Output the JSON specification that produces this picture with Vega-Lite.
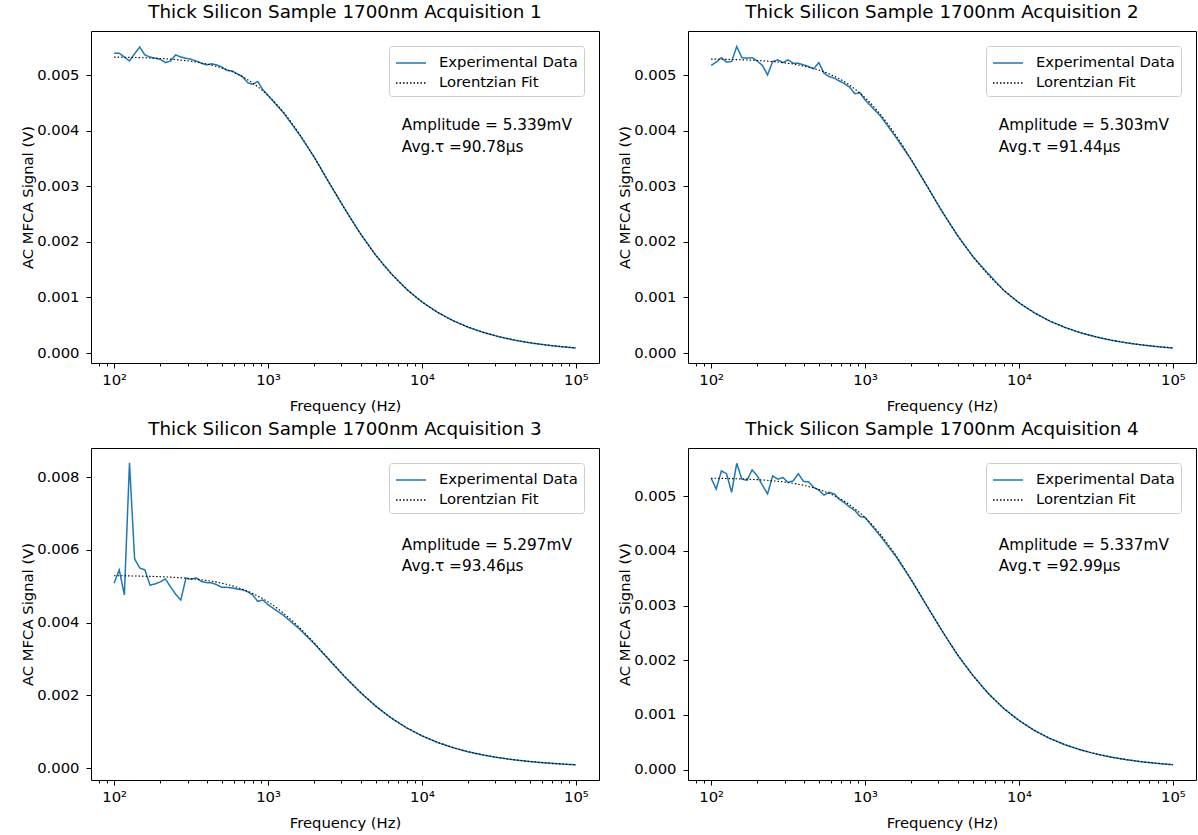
{
"$schema": "https://vega.github.io/schema/vega-lite/v6.json",
"background": "white",
"padding": {"left": 20, "top": 2, "right": 2, "bottom": 2},
"bounds": "flush",
"columns": 2,
"spacing": {"row": 85, "column": 89},
"config": {
  "font": "DejaVu Sans",
  "view": {"stroke": "#000000", "strokeWidth": 1},
  "axis": {"grid": false, "domain": false, "tickColor": "#000000", "tickSize": 5, "tickWidth": 1, "labelColor": "#000000", "labelFontSize": 14.8, "labelFont": "DejaVu Sans", "labelPadding": 4, "titleColor": "#000000", "titleFontSize": 14.8, "titleFontWeight": "normal", "titleFont": "DejaVu Sans", "titlePadding": 5, "labelFlush": false, "labelOverlap": false},
  "axisX": {"titlePadding": 12},
  "axisY": {"titlePadding": 1, "labelPadding": 7},
  "title": {"fontSize": 18.3, "fontWeight": "normal", "font": "DejaVu Sans", "color": "#000000", "offset": 9, "baseline": "alphabetic", "anchor": "middle"},
  "legend": {"orient": "top-right", "offset": 15, "padding": 6, "strokeColor": "#cccccc", "fillColor": "#ffffff", "cornerRadius": 3, "labelFontSize": 14.8, "labelFont": "DejaVu Sans", "labelColor": "#000000", "symbolType": "M-1.5,0H1.5", "symbolSize": 400, "symbolOffset": 5, "symbolStrokeWidth": 1.5, "labelOffset": 17, "rowPadding": 2, "labelLimit": 300}
},
"resolve": {"scale": {"x": "independent", "y": "independent", "color": "independent", "strokeDash": "independent"}},
"datasets": {
"notes": [
{"p":1,"t":"Amplitude = 5.339mV","f":7400,"v":0.00410},{"p":1,"t":"Avg.τ =90.78µs","f":7400,"v":0.00371},
{"p":2,"t":"Amplitude = 5.303mV","f":7400,"v":0.00410},{"p":2,"t":"Avg.τ =91.44µs","f":7400,"v":0.00371},
{"p":3,"t":"Amplitude = 5.297mV","f":7400,"v":0.00614},{"p":3,"t":"Avg.τ =93.46µs","f":7400,"v":0.00556},
{"p":4,"t":"Amplitude = 5.337mV","f":7400,"v":0.00411},{"p":4,"t":"Avg.τ =92.99µs","f":7400,"v":0.00373}
],
"curves": [
{"p":1,"s":"Experimental Data","f":100,"v":0.00540},{"p":1,"s":"Experimental Data","f":107.98,"v":0.00540},{"p":1,"s":"Experimental Data","f":116.59,"v":0.00533},{"p":1,"s":"Experimental Data","f":125.89,"v":0.00526},{"p":1,"s":"Experimental Data","f":135.94,"v":0.00539},{"p":1,"s":"Experimental Data","f":146.78,"v":0.00551},{"p":1,"s":"Experimental Data","f":158.49,"v":0.00537},{"p":1,"s":"Experimental Data","f":171.13,"v":0.00533},{"p":1,"s":"Experimental Data","f":184.79,"v":0.00531},{"p":1,"s":"Experimental Data","f":199.53,"v":0.00529},{"p":1,"s":"Experimental Data","f":215.44,"v":0.00523},{"p":1,"s":"Experimental Data","f":232.63,"v":0.00526},{"p":1,"s":"Experimental Data","f":251.19,"v":0.00537},{"p":1,"s":"Experimental Data","f":271.23,"v":0.00533},{"p":1,"s":"Experimental Data","f":292.87,"v":0.00531},{"p":1,"s":"Experimental Data","f":316.23,"v":0.00529},{"p":1,"s":"Experimental Data","f":341.45,"v":0.00526},{"p":1,"s":"Experimental Data","f":368.7,"v":0.00522},{"p":1,"s":"Experimental Data","f":398.11,"v":0.00519},{"p":1,"s":"Experimental Data","f":429.87,"v":0.00521},{"p":1,"s":"Experimental Data","f":464.16,"v":0.00519},{"p":1,"s":"Experimental Data","f":501.19,"v":0.00515},{"p":1,"s":"Experimental Data","f":541.17,"v":0.00509},{"p":1,"s":"Experimental Data","f":584.34,"v":0.00508},{"p":1,"s":"Experimental Data","f":630.96,"v":0.00503},{"p":1,"s":"Experimental Data","f":681.29,"v":0.00498},{"p":1,"s":"Experimental Data","f":735.64,"v":0.00487},{"p":1,"s":"Experimental Data","f":794.33,"v":0.00484},{"p":1,"s":"Experimental Data","f":857.7,"v":0.00489},{"p":1,"s":"Experimental Data","f":926.12,"v":0.00474},{"p":1,"s":"Experimental Data","f":1000,"v":0.00464},
{"p":1,"s":"Experimental Data","f":1258.9,"v":0.00433},{"p":1,"s":"Experimental Data","f":1584.9,"v":0.00395},{"p":1,"s":"Experimental Data","f":1995.3,"v":0.00353},{"p":1,"s":"Experimental Data","f":2511.9,"v":0.00305},{"p":1,"s":"Experimental Data","f":3162.3,"v":0.00259},{"p":1,"s":"Experimental Data","f":3981.1,"v":0.00215},{"p":1,"s":"Experimental Data","f":5011.9,"v":0.00176},{"p":1,"s":"Experimental Data","f":6309.6,"v":0.00143},{"p":1,"s":"Experimental Data","f":7943.3,"v":0.00115},{"p":1,"s":"Experimental Data","f":10000,"v":0.00092},{"p":1,"s":"Experimental Data","f":12589,"v":0.000735},{"p":1,"s":"Experimental Data","f":15849,"v":0.000585},{"p":1,"s":"Experimental Data","f":19953,"v":0.000465},{"p":1,"s":"Experimental Data","f":25119,"v":0.00037},{"p":1,"s":"Experimental Data","f":31623,"v":0.000293},{"p":1,"s":"Experimental Data","f":39811,"v":0.000232},{"p":1,"s":"Experimental Data","f":50119,"v":0.000184},{"p":1,"s":"Experimental Data","f":63096,"v":0.000146},{"p":1,"s":"Experimental Data","f":79433,"v":0.000115},{"p":1,"s":"Experimental Data","f":100000,"v":0.000088},
{"p":1,"s":"Lorentzian Fit","f":100,"v":0.0053303},{"p":1,"s":"Lorentzian Fit","f":125.89,"v":0.0053253},{"p":1,"s":"Lorentzian Fit","f":158.49,"v":0.0053173},{"p":1,"s":"Lorentzian Fit","f":199.53,"v":0.0053048},{"p":1,"s":"Lorentzian Fit","f":251.19,"v":0.005285},{"p":1,"s":"Lorentzian Fit","f":316.23,"v":0.0052541},{"p":1,"s":"Lorentzian Fit","f":398.11,"v":0.0052066},{"p":1,"s":"Lorentzian Fit","f":501.19,"v":0.0051334},{"p":1,"s":"Lorentzian Fit","f":630.96,"v":0.0050236},{"p":1,"s":"Lorentzian Fit","f":794.33,"v":0.0048631},{"p":1,"s":"Lorentzian Fit","f":1000,"v":0.0046377},{"p":1,"s":"Lorentzian Fit","f":1258.9,"v":0.0043368},{"p":1,"s":"Lorentzian Fit","f":1584.9,"v":0.0039606},{"p":1,"s":"Lorentzian Fit","f":1995.3,"v":0.0035241},{"p":1,"s":"Lorentzian Fit","f":2511.9,"v":0.0030557},{"p":1,"s":"Lorentzian Fit","f":3162.3,"v":0.0025887},{"p":1,"s":"Lorentzian Fit","f":3981.1,"v":0.0021518},{"p":1,"s":"Lorentzian Fit","f":5011.9,"v":0.0017629},{"p":1,"s":"Lorentzian Fit","f":6309.6,"v":0.0014293},{"p":1,"s":"Lorentzian Fit","f":7943.3,"v":0.0011507},{"p":1,"s":"Lorentzian Fit","f":10000,"v":0.00092196},{"p":1,"s":"Lorentzian Fit","f":12589,"v":0.00073647},{"p":1,"s":"Lorentzian Fit","f":15849,"v":0.00058701},{"p":1,"s":"Lorentzian Fit","f":19953,"v":0.00046732},{"p":1,"s":"Lorentzian Fit","f":25119,"v":0.00037173},{"p":1,"s":"Lorentzian Fit","f":31623,"v":0.00029554},{"p":1,"s":"Lorentzian Fit","f":39811,"v":0.00023489},{"p":1,"s":"Lorentzian Fit","f":50119,"v":0.00018665},{"p":1,"s":"Lorentzian Fit","f":63096,"v":0.00014829},{"p":1,"s":"Lorentzian Fit","f":79433,"v":0.00011781},{"p":1,"s":"Lorentzian Fit","f":100000,"v":0.000093588},
{"p":2,"s":"Experimental Data","f":100,"v":0.00518},{"p":2,"s":"Experimental Data","f":107.98,"v":0.00524},{"p":2,"s":"Experimental Data","f":116.59,"v":0.00532},{"p":2,"s":"Experimental Data","f":125.89,"v":0.00524},{"p":2,"s":"Experimental Data","f":135.94,"v":0.00525},{"p":2,"s":"Experimental Data","f":146.78,"v":0.00552},{"p":2,"s":"Experimental Data","f":158.49,"v":0.00532},{"p":2,"s":"Experimental Data","f":171.13,"v":0.00531},{"p":2,"s":"Experimental Data","f":184.79,"v":0.00532},{"p":2,"s":"Experimental Data","f":199.53,"v":0.00526},{"p":2,"s":"Experimental Data","f":215.44,"v":0.00518},{"p":2,"s":"Experimental Data","f":232.63,"v":0.00501},{"p":2,"s":"Experimental Data","f":251.19,"v":0.00525},{"p":2,"s":"Experimental Data","f":271.23,"v":0.00528},{"p":2,"s":"Experimental Data","f":292.87,"v":0.00523},{"p":2,"s":"Experimental Data","f":316.23,"v":0.00528},{"p":2,"s":"Experimental Data","f":341.45,"v":0.00522},{"p":2,"s":"Experimental Data","f":368.7,"v":0.00522},{"p":2,"s":"Experimental Data","f":398.11,"v":0.00519},{"p":2,"s":"Experimental Data","f":429.87,"v":0.00516},{"p":2,"s":"Experimental Data","f":464.16,"v":0.00512},{"p":2,"s":"Experimental Data","f":501.19,"v":0.00523},{"p":2,"s":"Experimental Data","f":541.17,"v":0.00504},{"p":2,"s":"Experimental Data","f":584.34,"v":0.00498},{"p":2,"s":"Experimental Data","f":630.96,"v":0.00495},{"p":2,"s":"Experimental Data","f":681.29,"v":0.0049},{"p":2,"s":"Experimental Data","f":735.64,"v":0.00485},{"p":2,"s":"Experimental Data","f":794.33,"v":0.00479},{"p":2,"s":"Experimental Data","f":857.7,"v":0.00467},{"p":2,"s":"Experimental Data","f":926.12,"v":0.00469},{"p":2,"s":"Experimental Data","f":1000,"v":0.00456},
{"p":2,"s":"Experimental Data","f":1258.9,"v":0.00427},{"p":2,"s":"Experimental Data","f":1584.9,"v":0.00389},{"p":2,"s":"Experimental Data","f":1995.3,"v":0.00348},{"p":2,"s":"Experimental Data","f":2511.9,"v":0.00302},{"p":2,"s":"Experimental Data","f":3162.3,"v":0.00255},{"p":2,"s":"Experimental Data","f":3981.1,"v":0.00212},{"p":2,"s":"Experimental Data","f":5011.9,"v":0.00174},{"p":2,"s":"Experimental Data","f":6309.6,"v":0.00143},{"p":2,"s":"Experimental Data","f":7943.3,"v":0.00113},{"p":2,"s":"Experimental Data","f":10000,"v":0.000905},{"p":2,"s":"Experimental Data","f":12589,"v":0.000725},{"p":2,"s":"Experimental Data","f":15849,"v":0.000575},{"p":2,"s":"Experimental Data","f":19953,"v":0.00046},{"p":2,"s":"Experimental Data","f":25119,"v":0.000365},{"p":2,"s":"Experimental Data","f":31623,"v":0.00029},{"p":2,"s":"Experimental Data","f":39811,"v":0.00023},{"p":2,"s":"Experimental Data","f":50119,"v":0.000182},{"p":2,"s":"Experimental Data","f":63096,"v":0.000144},{"p":2,"s":"Experimental Data","f":79433,"v":0.000114},{"p":2,"s":"Experimental Data","f":100000,"v":0.000089},
{"p":2,"s":"Lorentzian Fit","f":100,"v":0.0052943},{"p":2,"s":"Lorentzian Fit","f":125.89,"v":0.0052892},{"p":2,"s":"Lorentzian Fit","f":158.49,"v":0.0052811},{"p":2,"s":"Lorentzian Fit","f":199.53,"v":0.0052685},{"p":2,"s":"Lorentzian Fit","f":251.19,"v":0.0052486},{"p":2,"s":"Lorentzian Fit","f":316.23,"v":0.0052176},{"p":2,"s":"Lorentzian Fit","f":398.11,"v":0.0051695},{"p":2,"s":"Lorentzian Fit","f":501.19,"v":0.0050959},{"p":2,"s":"Lorentzian Fit","f":630.96,"v":0.0049855},{"p":2,"s":"Lorentzian Fit","f":794.33,"v":0.0048243},{"p":2,"s":"Lorentzian Fit","f":1000,"v":0.0045981},{"p":2,"s":"Lorentzian Fit","f":1258.9,"v":0.0042968},{"p":2,"s":"Lorentzian Fit","f":1584.9,"v":0.003921},{"p":2,"s":"Lorentzian Fit","f":1995.3,"v":0.003486},{"p":2,"s":"Lorentzian Fit","f":2511.9,"v":0.0030203},{"p":2,"s":"Lorentzian Fit","f":3162.3,"v":0.002557},{"p":2,"s":"Lorentzian Fit","f":3981.1,"v":0.0021243},{"p":2,"s":"Lorentzian Fit","f":5011.9,"v":0.0017397},{"p":2,"s":"Lorentzian Fit","f":6309.6,"v":0.0014102},{"p":2,"s":"Lorentzian Fit","f":7943.3,"v":0.001135},{"p":2,"s":"Lorentzian Fit","f":10000,"v":0.00090933},{"p":2,"s":"Lorentzian Fit","f":12589,"v":0.00072625},{"p":2,"s":"Lorentzian Fit","f":15849,"v":0.00057889},{"p":2,"s":"Lorentzian Fit","f":19953,"v":0.00046084},{"p":2,"s":"Lorentzian Fit","f":25119,"v":0.00036657},{"p":2,"s":"Lorentzian Fit","f":31623,"v":0.00029143},{"p":2,"s":"Lorentzian Fit","f":39811,"v":0.00023162},{"p":2,"s":"Lorentzian Fit","f":50119,"v":0.00018405},{"p":2,"s":"Lorentzian Fit","f":63096,"v":0.00014623},{"p":2,"s":"Lorentzian Fit","f":79433,"v":0.00011617},{"p":2,"s":"Lorentzian Fit","f":100000,"v":0.000092285},
{"p":3,"s":"Experimental Data","f":100,"v":0.00508},{"p":3,"s":"Experimental Data","f":107.98,"v":0.00545},{"p":3,"s":"Experimental Data","f":116.59,"v":0.00476},{"p":3,"s":"Experimental Data","f":125.89,"v":0.00839},{"p":3,"s":"Experimental Data","f":135.94,"v":0.00575},{"p":3,"s":"Experimental Data","f":146.78,"v":0.0055},{"p":3,"s":"Experimental Data","f":158.49,"v":0.00545},{"p":3,"s":"Experimental Data","f":171.13,"v":0.00503},{"p":3,"s":"Experimental Data","f":184.79,"v":0.00506},{"p":3,"s":"Experimental Data","f":199.53,"v":0.00512},{"p":3,"s":"Experimental Data","f":215.44,"v":0.0052},{"p":3,"s":"Experimental Data","f":232.63,"v":0.00498},{"p":3,"s":"Experimental Data","f":251.19,"v":0.00478},{"p":3,"s":"Experimental Data","f":271.23,"v":0.00462},{"p":3,"s":"Experimental Data","f":292.87,"v":0.00522},{"p":3,"s":"Experimental Data","f":316.23,"v":0.00519},{"p":3,"s":"Experimental Data","f":341.45,"v":0.00523},{"p":3,"s":"Experimental Data","f":368.7,"v":0.00513},{"p":3,"s":"Experimental Data","f":398.11,"v":0.0051},{"p":3,"s":"Experimental Data","f":429.87,"v":0.00509},{"p":3,"s":"Experimental Data","f":464.16,"v":0.00504},{"p":3,"s":"Experimental Data","f":501.19,"v":0.00497},{"p":3,"s":"Experimental Data","f":541.17,"v":0.00497},{"p":3,"s":"Experimental Data","f":584.34,"v":0.00495},{"p":3,"s":"Experimental Data","f":630.96,"v":0.00492},{"p":3,"s":"Experimental Data","f":681.29,"v":0.0049},{"p":3,"s":"Experimental Data","f":735.64,"v":0.00485},{"p":3,"s":"Experimental Data","f":794.33,"v":0.00476},{"p":3,"s":"Experimental Data","f":857.7,"v":0.00458},{"p":3,"s":"Experimental Data","f":926.12,"v":0.00462},{"p":3,"s":"Experimental Data","f":1000,"v":0.00449},
{"p":3,"s":"Experimental Data","f":1258.9,"v":0.0042},{"p":3,"s":"Experimental Data","f":1584.9,"v":0.00384},{"p":3,"s":"Experimental Data","f":1995.3,"v":0.00342},{"p":3,"s":"Experimental Data","f":2511.9,"v":0.00296},{"p":3,"s":"Experimental Data","f":3162.3,"v":0.0025},{"p":3,"s":"Experimental Data","f":3981.1,"v":0.00208},{"p":3,"s":"Experimental Data","f":5011.9,"v":0.0017},{"p":3,"s":"Experimental Data","f":6309.6,"v":0.001375},{"p":3,"s":"Experimental Data","f":7943.3,"v":0.001105},{"p":3,"s":"Experimental Data","f":10000,"v":0.000885},{"p":3,"s":"Experimental Data","f":12589,"v":0.000705},{"p":3,"s":"Experimental Data","f":15849,"v":0.00056},{"p":3,"s":"Experimental Data","f":19953,"v":0.000445},{"p":3,"s":"Experimental Data","f":25119,"v":0.000355},{"p":3,"s":"Experimental Data","f":31623,"v":0.000282},{"p":3,"s":"Experimental Data","f":39811,"v":0.000224},{"p":3,"s":"Experimental Data","f":50119,"v":0.000177},{"p":3,"s":"Experimental Data","f":63096,"v":0.00014},{"p":3,"s":"Experimental Data","f":79433,"v":0.000111},{"p":3,"s":"Experimental Data","f":100000,"v":0.000087},
{"p":3,"s":"Lorentzian Fit","f":100,"v":0.0052879},{"p":3,"s":"Lorentzian Fit","f":125.89,"v":0.0052826},{"p":3,"s":"Lorentzian Fit","f":158.49,"v":0.0052742},{"p":3,"s":"Lorentzian Fit","f":199.53,"v":0.005261},{"p":3,"s":"Lorentzian Fit","f":251.19,"v":0.0052403},{"p":3,"s":"Lorentzian Fit","f":316.23,"v":0.005208},{"p":3,"s":"Lorentzian Fit","f":398.11,"v":0.0051579},{"p":3,"s":"Lorentzian Fit","f":501.19,"v":0.0050815},{"p":3,"s":"Lorentzian Fit","f":630.96,"v":0.004967},{"p":3,"s":"Lorentzian Fit","f":794.33,"v":0.0048004},{"p":3,"s":"Lorentzian Fit","f":1000,"v":0.0045677},{"p":3,"s":"Lorentzian Fit","f":1258.9,"v":0.0042594},{"p":3,"s":"Lorentzian Fit","f":1584.9,"v":0.0038775},{"p":3,"s":"Lorentzian Fit","f":1995.3,"v":0.0034387},{"p":3,"s":"Lorentzian Fit","f":2511.9,"v":0.0029723},{"p":3,"s":"Lorentzian Fit","f":3162.3,"v":0.0025115},{"p":3,"s":"Lorentzian Fit","f":3981.1,"v":0.0020832},{"p":3,"s":"Lorentzian Fit","f":5011.9,"v":0.0017041},{"p":3,"s":"Lorentzian Fit","f":6309.6,"v":0.0013802},{"p":3,"s":"Lorentzian Fit","f":7943.3,"v":0.0011103},{"p":3,"s":"Lorentzian Fit","f":10000,"v":0.00088923},{"p":3,"s":"Lorentzian Fit","f":12589,"v":0.00071004},{"p":3,"s":"Lorentzian Fit","f":15849,"v":0.00056588},{"p":3,"s":"Lorentzian Fit","f":19953,"v":0.00045045},{"p":3,"s":"Lorentzian Fit","f":25119,"v":0.00035827},{"p":3,"s":"Lorentzian Fit","f":31623,"v":0.00028483},{"p":3,"s":"Lorentzian Fit","f":39811,"v":0.00022637},{"p":3,"s":"Lorentzian Fit","f":50119,"v":0.00017987},{"p":3,"s":"Lorentzian Fit","f":63096,"v":0.00014291},{"p":3,"s":"Lorentzian Fit","f":79433,"v":0.00011353},{"p":3,"s":"Lorentzian Fit","f":100000,"v":0.00009019},
{"p":4,"s":"Experimental Data","f":100,"v":0.00533},{"p":4,"s":"Experimental Data","f":107.98,"v":0.00513},{"p":4,"s":"Experimental Data","f":116.59,"v":0.00546},{"p":4,"s":"Experimental Data","f":125.89,"v":0.00541},{"p":4,"s":"Experimental Data","f":135.94,"v":0.00507},{"p":4,"s":"Experimental Data","f":146.78,"v":0.0056},{"p":4,"s":"Experimental Data","f":158.49,"v":0.00531},{"p":4,"s":"Experimental Data","f":171.13,"v":0.00529},{"p":4,"s":"Experimental Data","f":184.79,"v":0.00548},{"p":4,"s":"Experimental Data","f":199.53,"v":0.00537},{"p":4,"s":"Experimental Data","f":215.44,"v":0.0052},{"p":4,"s":"Experimental Data","f":232.63,"v":0.00504},{"p":4,"s":"Experimental Data","f":251.19,"v":0.00537},{"p":4,"s":"Experimental Data","f":271.23,"v":0.00531},{"p":4,"s":"Experimental Data","f":292.87,"v":0.00534},{"p":4,"s":"Experimental Data","f":316.23,"v":0.00525},{"p":4,"s":"Experimental Data","f":341.45,"v":0.00528},{"p":4,"s":"Experimental Data","f":368.7,"v":0.00541},{"p":4,"s":"Experimental Data","f":398.11,"v":0.00527},{"p":4,"s":"Experimental Data","f":429.87,"v":0.00526},{"p":4,"s":"Experimental Data","f":464.16,"v":0.00516},{"p":4,"s":"Experimental Data","f":501.19,"v":0.00511},{"p":4,"s":"Experimental Data","f":541.17,"v":0.00502},{"p":4,"s":"Experimental Data","f":584.34,"v":0.00507},{"p":4,"s":"Experimental Data","f":630.96,"v":0.00504},{"p":4,"s":"Experimental Data","f":681.29,"v":0.00494},{"p":4,"s":"Experimental Data","f":735.64,"v":0.00488},{"p":4,"s":"Experimental Data","f":794.33,"v":0.0048},{"p":4,"s":"Experimental Data","f":857.7,"v":0.00474},{"p":4,"s":"Experimental Data","f":926.12,"v":0.00463},{"p":4,"s":"Experimental Data","f":1000,"v":0.00461},
{"p":4,"s":"Experimental Data","f":1258.9,"v":0.00427},{"p":4,"s":"Experimental Data","f":1584.9,"v":0.0039},{"p":4,"s":"Experimental Data","f":1995.3,"v":0.00347},{"p":4,"s":"Experimental Data","f":2511.9,"v":0.003},{"p":4,"s":"Experimental Data","f":3162.3,"v":0.00254},{"p":4,"s":"Experimental Data","f":3981.1,"v":0.0021},{"p":4,"s":"Experimental Data","f":5011.9,"v":0.001725},{"p":4,"s":"Experimental Data","f":6309.6,"v":0.001395},{"p":4,"s":"Experimental Data","f":7943.3,"v":0.00112},{"p":4,"s":"Experimental Data","f":10000,"v":0.0009},{"p":4,"s":"Experimental Data","f":12589,"v":0.000717},{"p":4,"s":"Experimental Data","f":15849,"v":0.00057},{"p":4,"s":"Experimental Data","f":19953,"v":0.000454},{"p":4,"s":"Experimental Data","f":25119,"v":0.00036},{"p":4,"s":"Experimental Data","f":31623,"v":0.000286},{"p":4,"s":"Experimental Data","f":39811,"v":0.000227},{"p":4,"s":"Experimental Data","f":50119,"v":0.00018},{"p":4,"s":"Experimental Data","f":63096,"v":0.000142},{"p":4,"s":"Experimental Data","f":79433,"v":0.000113},{"p":4,"s":"Experimental Data","f":100000,"v":0.000088},
{"p":4,"s":"Lorentzian Fit","f":100,"v":0.0053279},{"p":4,"s":"Lorentzian Fit","f":125.89,"v":0.0053226},{"p":4,"s":"Lorentzian Fit","f":158.49,"v":0.0053143},{"p":4,"s":"Lorentzian Fit","f":199.53,"v":0.0053011},{"p":4,"s":"Lorentzian Fit","f":251.19,"v":0.0052804},{"p":4,"s":"Lorentzian Fit","f":316.23,"v":0.0052481},{"p":4,"s":"Lorentzian Fit","f":398.11,"v":0.0051982},{"p":4,"s":"Lorentzian Fit","f":501.19,"v":0.0051219},{"p":4,"s":"Lorentzian Fit","f":630.96,"v":0.0050076},{"p":4,"s":"Lorentzian Fit","f":794.33,"v":0.0048411},{"p":4,"s":"Lorentzian Fit","f":1000,"v":0.0046081},{"p":4,"s":"Lorentzian Fit","f":1258.9,"v":0.0042992},{"p":4,"s":"Lorentzian Fit","f":1584.9,"v":0.0039158},{"p":4,"s":"Lorentzian Fit","f":1995.3,"v":0.0034748},{"p":4,"s":"Lorentzian Fit","f":2511.9,"v":0.0030051},{"p":4,"s":"Lorentzian Fit","f":3162.3,"v":0.0025402},{"p":4,"s":"Lorentzian Fit","f":3981.1,"v":0.0021079},{"p":4,"s":"Lorentzian Fit","f":5011.9,"v":0.0017247},{"p":4,"s":"Lorentzian Fit","f":6309.6,"v":0.0013972},{"p":4,"s":"Lorentzian Fit","f":7943.3,"v":0.0011241},{"p":4,"s":"Lorentzian Fit","f":10000,"v":0.00090034},{"p":4,"s":"Lorentzian Fit","f":12589,"v":0.00071894},{"p":4,"s":"Lorentzian Fit","f":15849,"v":0.000573},{"p":4,"s":"Lorentzian Fit","f":19953,"v":0.00045612},{"p":4,"s":"Lorentzian Fit","f":25119,"v":0.00036279},{"p":4,"s":"Lorentzian Fit","f":31623,"v":0.00028843},{"p":4,"s":"Lorentzian Fit","f":39811,"v":0.00022923},{"p":4,"s":"Lorentzian Fit","f":50119,"v":0.00018215},{"p":4,"s":"Lorentzian Fit","f":63096,"v":0.00014471},{"p":4,"s":"Lorentzian Fit","f":79433,"v":0.00011497},{"p":4,"s":"Lorentzian Fit","f":100000,"v":0.00009133}
]
},
"concat": [
{
 "title": "Thick Silicon Sample 1700nm Acquisition 1",
 "width": 508, "height": 332,
 "resolve": {"axis": {"x": "independent"}},
 "layer": [
  {"data": {"name": "curves"}, "transform": [{"filter": "datum.p == 1 && datum.s == 'Experimental Data'"}],
   "mark": {"type": "line", "strokeWidth": 1.5},
   "encoding": {
    "x": {"field": "f", "type": "quantitative", "scale": {"type": "log", "domain": [70.79, 141254], "nice": false}, "axis": {"orient": "bottom", "values": [100, 1000, 10000, 100000], "labelExpr": "datum.value == 100 ? '10²' : datum.value == 1000 ? '10³' : datum.value == 10000 ? '10⁴' : '10⁵'", "title": "Frequency (Hz)"}},
    "y": {"field": "v", "type": "quantitative", "scale": {"domain": [-0.00018, 0.0058], "nice": false, "zero": false}, "axis": {"values": [0, 0.001, 0.002, 0.003, 0.004, 0.005], "format": ".3f", "title": "AC MFCA Signal (V)"}},
    "color": {"field": "s", "type": "nominal", "scale": {"domain": ["Experimental Data", "Lorentzian Fit"], "range": ["#1f77b4", "#000000"]}, "legend": {"title": null}},
    "strokeDash": {"field": "s", "type": "nominal", "scale": {"domain": ["Experimental Data", "Lorentzian Fit"], "range": [[1, 0], [1.5, 2]]}, "legend": {"title": null}}
   }},
  {"data": {"name": "curves"}, "transform": [{"filter": "datum.p == 1 && datum.s == 'Lorentzian Fit'"}],
   "mark": {"type": "line", "strokeWidth": 1.1, "interpolate": "monotone"},
   "encoding": {
    "x": {"field": "f", "type": "quantitative", "scale": {"type": "log", "domain": [70.79, 141254], "nice": false}, "axis": {"orient": "bottom", "values": [80, 90, 200, 300, 400, 500, 600, 700, 800, 900, 2000, 3000, 4000, 5000, 6000, 7000, 8000, 9000, 20000, 30000, 40000, 50000, 60000, 70000, 80000, 90000], "labels": false, "title": null, "tickSize": 3}},
    "y": {"field": "v", "type": "quantitative", "scale": {"domain": [-0.00018, 0.0058], "nice": false, "zero": false}, "axis": {"values": [0, 0.001, 0.002, 0.003, 0.004, 0.005], "format": ".3f", "title": "AC MFCA Signal (V)"}},
    "color": {"field": "s", "type": "nominal", "scale": {"domain": ["Experimental Data", "Lorentzian Fit"], "range": ["#1f77b4", "#000000"]}, "legend": {"title": null}},
    "strokeDash": {"field": "s", "type": "nominal", "scale": {"domain": ["Experimental Data", "Lorentzian Fit"], "range": [[1, 0], [1.5, 2]]}, "legend": {"title": null}}
   }},
  {"data": {"name": "notes"}, "transform": [{"filter": "datum.p == 1"}],
   "mark": {"type": "text", "align": "left", "baseline": "middle", "fontSize": 15.3, "color": "#000000"},
   "encoding": {"x": {"field": "f", "type": "quantitative", "axis": null}, "y": {"field": "v", "type": "quantitative", "scale": {"domain": [-0.00018, 0.0058], "nice": false, "zero": false}, "axis": {"values": [0, 0.001, 0.002, 0.003, 0.004, 0.005], "format": ".3f", "title": "AC MFCA Signal (V)"}}, "text": {"field": "t"}}}
 ]
},
{
 "title": "Thick Silicon Sample 1700nm Acquisition 2",
 "width": 508, "height": 332,
 "resolve": {"axis": {"x": "independent"}},
 "layer": [
  {"data": {"name": "curves"}, "transform": [{"filter": "datum.p == 2 && datum.s == 'Experimental Data'"}],
   "mark": {"type": "line", "strokeWidth": 1.5},
   "encoding": {
    "x": {"field": "f", "type": "quantitative", "scale": {"type": "log", "domain": [70.79, 141254], "nice": false}, "axis": {"orient": "bottom", "values": [100, 1000, 10000, 100000], "labelExpr": "datum.value == 100 ? '10²' : datum.value == 1000 ? '10³' : datum.value == 10000 ? '10⁴' : '10⁵'", "title": "Frequency (Hz)"}},
    "y": {"field": "v", "type": "quantitative", "scale": {"domain": [-0.00018, 0.0058], "nice": false, "zero": false}, "axis": {"values": [0, 0.001, 0.002, 0.003, 0.004, 0.005], "format": ".3f", "title": "AC MFCA Signal (V)"}},
    "color": {"field": "s", "type": "nominal", "scale": {"domain": ["Experimental Data", "Lorentzian Fit"], "range": ["#1f77b4", "#000000"]}, "legend": {"title": null}},
    "strokeDash": {"field": "s", "type": "nominal", "scale": {"domain": ["Experimental Data", "Lorentzian Fit"], "range": [[1, 0], [1.5, 2]]}, "legend": {"title": null}}
   }},
  {"data": {"name": "curves"}, "transform": [{"filter": "datum.p == 2 && datum.s == 'Lorentzian Fit'"}],
   "mark": {"type": "line", "strokeWidth": 1.1, "interpolate": "monotone"},
   "encoding": {
    "x": {"field": "f", "type": "quantitative", "scale": {"type": "log", "domain": [70.79, 141254], "nice": false}, "axis": {"orient": "bottom", "values": [80, 90, 200, 300, 400, 500, 600, 700, 800, 900, 2000, 3000, 4000, 5000, 6000, 7000, 8000, 9000, 20000, 30000, 40000, 50000, 60000, 70000, 80000, 90000], "labels": false, "title": null, "tickSize": 3}},
    "y": {"field": "v", "type": "quantitative", "scale": {"domain": [-0.00018, 0.0058], "nice": false, "zero": false}, "axis": {"values": [0, 0.001, 0.002, 0.003, 0.004, 0.005], "format": ".3f", "title": "AC MFCA Signal (V)"}},
    "color": {"field": "s", "type": "nominal", "scale": {"domain": ["Experimental Data", "Lorentzian Fit"], "range": ["#1f77b4", "#000000"]}, "legend": {"title": null}},
    "strokeDash": {"field": "s", "type": "nominal", "scale": {"domain": ["Experimental Data", "Lorentzian Fit"], "range": [[1, 0], [1.5, 2]]}, "legend": {"title": null}}
   }},
  {"data": {"name": "notes"}, "transform": [{"filter": "datum.p == 2"}],
   "mark": {"type": "text", "align": "left", "baseline": "middle", "fontSize": 15.3, "color": "#000000"},
   "encoding": {"x": {"field": "f", "type": "quantitative", "axis": null}, "y": {"field": "v", "type": "quantitative", "scale": {"domain": [-0.00018, 0.0058], "nice": false, "zero": false}, "axis": {"values": [0, 0.001, 0.002, 0.003, 0.004, 0.005], "format": ".3f", "title": "AC MFCA Signal (V)"}}, "text": {"field": "t"}}}
 ]
},
{
 "title": "Thick Silicon Sample 1700nm Acquisition 3",
 "width": 508, "height": 332,
 "resolve": {"axis": {"x": "independent"}},
 "layer": [
  {"data": {"name": "curves"}, "transform": [{"filter": "datum.p == 3 && datum.s == 'Experimental Data'"}],
   "mark": {"type": "line", "strokeWidth": 1.5},
   "encoding": {
    "x": {"field": "f", "type": "quantitative", "scale": {"type": "log", "domain": [70.79, 141254], "nice": false}, "axis": {"orient": "bottom", "values": [100, 1000, 10000, 100000], "labelExpr": "datum.value == 100 ? '10²' : datum.value == 1000 ? '10³' : datum.value == 10000 ? '10⁴' : '10⁵'", "title": "Frequency (Hz)"}},
    "y": {"field": "v", "type": "quantitative", "scale": {"domain": [-0.00033, 0.0088], "nice": false, "zero": false}, "axis": {"values": [0, 0.002, 0.004, 0.006, 0.008], "format": ".3f", "title": "AC MFCA Signal (V)"}},
    "color": {"field": "s", "type": "nominal", "scale": {"domain": ["Experimental Data", "Lorentzian Fit"], "range": ["#1f77b4", "#000000"]}, "legend": {"title": null}},
    "strokeDash": {"field": "s", "type": "nominal", "scale": {"domain": ["Experimental Data", "Lorentzian Fit"], "range": [[1, 0], [1.5, 2]]}, "legend": {"title": null}}
   }},
  {"data": {"name": "curves"}, "transform": [{"filter": "datum.p == 3 && datum.s == 'Lorentzian Fit'"}],
   "mark": {"type": "line", "strokeWidth": 1.1, "interpolate": "monotone"},
   "encoding": {
    "x": {"field": "f", "type": "quantitative", "scale": {"type": "log", "domain": [70.79, 141254], "nice": false}, "axis": {"orient": "bottom", "values": [80, 90, 200, 300, 400, 500, 600, 700, 800, 900, 2000, 3000, 4000, 5000, 6000, 7000, 8000, 9000, 20000, 30000, 40000, 50000, 60000, 70000, 80000, 90000], "labels": false, "title": null, "tickSize": 3}},
    "y": {"field": "v", "type": "quantitative", "scale": {"domain": [-0.00033, 0.0088], "nice": false, "zero": false}, "axis": {"values": [0, 0.002, 0.004, 0.006, 0.008], "format": ".3f", "title": "AC MFCA Signal (V)"}},
    "color": {"field": "s", "type": "nominal", "scale": {"domain": ["Experimental Data", "Lorentzian Fit"], "range": ["#1f77b4", "#000000"]}, "legend": {"title": null}},
    "strokeDash": {"field": "s", "type": "nominal", "scale": {"domain": ["Experimental Data", "Lorentzian Fit"], "range": [[1, 0], [1.5, 2]]}, "legend": {"title": null}}
   }},
  {"data": {"name": "notes"}, "transform": [{"filter": "datum.p == 3"}],
   "mark": {"type": "text", "align": "left", "baseline": "middle", "fontSize": 15.3, "color": "#000000"},
   "encoding": {"x": {"field": "f", "type": "quantitative", "axis": null}, "y": {"field": "v", "type": "quantitative", "scale": {"domain": [-0.00033, 0.0088], "nice": false, "zero": false}, "axis": {"values": [0, 0.002, 0.004, 0.006, 0.008], "format": ".3f", "title": "AC MFCA Signal (V)"}}, "text": {"field": "t"}}}
 ]
},
{
 "title": "Thick Silicon Sample 1700nm Acquisition 4",
 "width": 508, "height": 332,
 "resolve": {"axis": {"x": "independent"}},
 "layer": [
  {"data": {"name": "curves"}, "transform": [{"filter": "datum.p == 4 && datum.s == 'Experimental Data'"}],
   "mark": {"type": "line", "strokeWidth": 1.5},
   "encoding": {
    "x": {"field": "f", "type": "quantitative", "scale": {"type": "log", "domain": [70.79, 141254], "nice": false}, "axis": {"orient": "bottom", "values": [100, 1000, 10000, 100000], "labelExpr": "datum.value == 100 ? '10²' : datum.value == 1000 ? '10³' : datum.value == 10000 ? '10⁴' : '10⁵'", "title": "Frequency (Hz)"}},
    "y": {"field": "v", "type": "quantitative", "scale": {"domain": [-0.00019, 0.00588], "nice": false, "zero": false}, "axis": {"values": [0, 0.001, 0.002, 0.003, 0.004, 0.005], "format": ".3f", "title": "AC MFCA Signal (V)"}},
    "color": {"field": "s", "type": "nominal", "scale": {"domain": ["Experimental Data", "Lorentzian Fit"], "range": ["#1f77b4", "#000000"]}, "legend": {"title": null}},
    "strokeDash": {"field": "s", "type": "nominal", "scale": {"domain": ["Experimental Data", "Lorentzian Fit"], "range": [[1, 0], [1.5, 2]]}, "legend": {"title": null}}
   }},
  {"data": {"name": "curves"}, "transform": [{"filter": "datum.p == 4 && datum.s == 'Lorentzian Fit'"}],
   "mark": {"type": "line", "strokeWidth": 1.1, "interpolate": "monotone"},
   "encoding": {
    "x": {"field": "f", "type": "quantitative", "scale": {"type": "log", "domain": [70.79, 141254], "nice": false}, "axis": {"orient": "bottom", "values": [80, 90, 200, 300, 400, 500, 600, 700, 800, 900, 2000, 3000, 4000, 5000, 6000, 7000, 8000, 9000, 20000, 30000, 40000, 50000, 60000, 70000, 80000, 90000], "labels": false, "title": null, "tickSize": 3}},
    "y": {"field": "v", "type": "quantitative", "scale": {"domain": [-0.00019, 0.00588], "nice": false, "zero": false}, "axis": {"values": [0, 0.001, 0.002, 0.003, 0.004, 0.005], "format": ".3f", "title": "AC MFCA Signal (V)"}},
    "color": {"field": "s", "type": "nominal", "scale": {"domain": ["Experimental Data", "Lorentzian Fit"], "range": ["#1f77b4", "#000000"]}, "legend": {"title": null}},
    "strokeDash": {"field": "s", "type": "nominal", "scale": {"domain": ["Experimental Data", "Lorentzian Fit"], "range": [[1, 0], [1.5, 2]]}, "legend": {"title": null}}
   }},
  {"data": {"name": "notes"}, "transform": [{"filter": "datum.p == 4"}],
   "mark": {"type": "text", "align": "left", "baseline": "middle", "fontSize": 15.3, "color": "#000000"},
   "encoding": {"x": {"field": "f", "type": "quantitative", "axis": null}, "y": {"field": "v", "type": "quantitative", "scale": {"domain": [-0.00019, 0.00588], "nice": false, "zero": false}, "axis": {"values": [0, 0.001, 0.002, 0.003, 0.004, 0.005], "format": ".3f", "title": "AC MFCA Signal (V)"}}, "text": {"field": "t"}}}
 ]
}
]
}
